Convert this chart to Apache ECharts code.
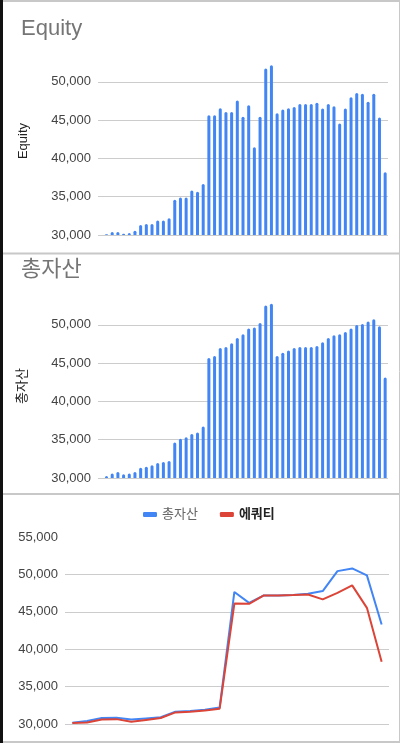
<!DOCTYPE html>
<html lang="ko">

<head>
    <meta charset="UTF-8">
    <title>Equity / 총자산</title>
    <style type="text/css">
        html, body {
            margin: 0;
            padding: 0;
            background: #fff;
        }
    </style>
</head>

<body>
    <div id="main" style="width:400px;height:743px;"></div>
    <script src="https://cdn.jsdelivr.net/npm/echarts@6/dist/echarts.min.js"></script>
    <script type="text/javascript">
        // 막대 차트 데이터 (51개 구간)
        var equity = [30000, 30100, 30400, 30400, 30150, 30250, 30550, 31300, 31450, 31450,
            31900, 31900, 32200, 34600, 34900, 34900, 35800, 35650, 36650, 45650,
            45650, 46550, 46050, 46050, 47550, 45450, 46950, 41450, 45450, 51750,
            52150, 45900, 46400, 46550, 46700, 47100, 47100, 47100, 47250, 46500,
            47100, 46800, 44550, 46500, 48000, 48550, 48450, 47400, 48450, 45350,
            38200];
        var totalAsset = [30000, 30250, 30600, 30780, 30480, 30600, 30780, 31350, 31480, 31650,
            31950, 32100, 32220, 34620, 35140, 35330, 35760, 35940, 36720, 45660,
            45920, 46970, 47100, 47580, 48280, 48760, 49510, 49640, 50250, 52530,
            52750, 45920, 46360, 46660, 46970, 47100, 47100, 47100, 47230, 47720,
            48280, 48630, 48760, 49070, 49510, 49990, 50120, 50420, 50720, 49800,
            43130];
        var barCats = equity.map(function (v, i) { return String(i + 1); });

        // 선 차트 데이터 (22개 지점)
        var lineAsset = [30170, 30400, 30800, 30850, 30600, 30750, 30900, 31650, 31750, 31900,
            32200, 47650, 46200, 47190, 47190, 47250, 47400, 47770, 50440, 50800,
            49870, 43310];
        var lineEquity = [30130, 30200, 30600, 30650, 30300, 30550, 30800, 31550, 31650, 31800,
            32050, 46100, 46070, 47190, 47190, 47250, 47320, 46660, 47540, 48530,
            45530, 38320];
        var lineCats = lineAsset.map(function (v, i) { return String(i + 1); });

        var latin = 'Arial, "Liberation Sans", "Noto Sans CJK KR", sans-serif';
        var blue = '#4285F4';
        var red = '#DB4437';
        var gridColor = '#cccccc';

        var myChart = echarts.init(document.getElementById('main'));

        function valueAxis(idx, min, max) {
            return {
                type: 'value',
                gridIndex: idx,
                min: min,
                max: max,
                interval: 5000,
                axisLine: { show: false },
                axisTick: { show: false },
                splitLine: { showMaxLine: false, lineStyle: { color: gridColor, width: 1 } },
                axisLabel: {
                    color: '#444',
                    fontSize: 13,
                    fontFamily: latin,
                    margin: 7,
                    showMaxLabel: max % 5000 === 0,
                    formatter: function (v) { return v % 5000 === 0 ? v.toLocaleString('en-US') : ''; }
                }
            };
        }

        function catAxis(idx, data) {
            return {
                type: 'category',
                gridIndex: idx,
                data: data,
                boundaryGap: true,
                axisLine: { show: false },
                axisTick: { show: false },
                axisLabel: { show: false },
                splitLine: { show: false }
            };
        }

        var option = {
            animation: false,
            backgroundColor: '#fff',
            title: [
                { text: 'Equity', left: 16, top: 13, textStyle: { color: '#757575', fontSize: 22, fontWeight: 'normal', fontFamily: latin } },
                { text: '총자산', left: 16, top: 254, textStyle: { color: '#757575', fontSize: 22, fontWeight: 'normal', fontFamily: latin } }
            ],
            legend: {
                left: 138,
                top: 503,
                icon: 'roundRect',
                itemWidth: 14,
                itemHeight: 5,
                itemGap: 22,
                textStyle: { fontSize: 13, fontFamily: latin },
                data: [
                    { name: '총자산', textStyle: { color: '#666' } },
                    { name: '에쿼티', textStyle: { color: '#222', fontWeight: 'bold' } }
                ]
            },
            grid: [
                { left: 98, top: 55, width: 290, height: 180 },
                { left: 98, top: 298, width: 290, height: 180 },
                { left: 65, top: 537, width: 324, height: 187 }
            ],
            xAxis: [catAxis(0, barCats), catAxis(1, barCats), catAxis(2, lineCats)],
            yAxis: [valueAxis(0, 30000, 53500), valueAxis(1, 30000, 53500), valueAxis(2, 30000, 55000)],
            series: [
                {
                    name: 'Equity',
                    type: 'bar',
                    xAxisIndex: 0,
                    yAxisIndex: 0,
                    barWidth: 3,
                    itemStyle: { color: blue, borderRadius: [1.5, 1.5, 0, 0] },
                    data: equity
                },
                {
                    name: '총자산 막대',
                    type: 'bar',
                    xAxisIndex: 1,
                    yAxisIndex: 1,
                    barWidth: 3,
                    itemStyle: { color: blue, borderRadius: [1.5, 1.5, 0, 0] },
                    data: totalAsset
                },
                {
                    name: '총자산',
                    type: 'line',
                    xAxisIndex: 2,
                    yAxisIndex: 2,
                    symbol: 'none',
                    lineStyle: { color: blue, width: 2 },
                    itemStyle: { color: blue },
                    data: lineAsset
                },
                {
                    name: '에쿼티',
                    type: 'line',
                    xAxisIndex: 2,
                    yAxisIndex: 2,
                    symbol: 'none',
                    lineStyle: { color: red, width: 2 },
                    itemStyle: { color: red },
                    data: lineEquity
                }
            ],
            graphic: [
                // 세로 축 제목
                { type: 'text', x: 17, y: 141, rotation: Math.PI / 2, style: { text: 'Equity', fill: '#222', font: '13px ' + latin, align: 'center', verticalAlign: 'top' } },
                { type: 'text', x: 16, y: 386, rotation: Math.PI / 2, style: { text: '총자산', fill: '#222', font: '13px ' + latin, align: 'center', verticalAlign: 'top' } },
                // 패널 테두리
                { type: 'line', shape: { x1: 0, y1: 1, x2: 400, y2: 1 }, style: { stroke: '#c8c8c8', lineWidth: 2 } },
                { type: 'line', shape: { x1: 0, y1: 253.5, x2: 400, y2: 253.5 }, style: { stroke: '#c8c8c8', lineWidth: 2 } },
                { type: 'line', shape: { x1: 0, y1: 494, x2: 400, y2: 494 }, style: { stroke: '#c8c8c8', lineWidth: 2 } },
                { type: 'line', shape: { x1: 0, y1: 742, x2: 400, y2: 742 }, style: { stroke: '#c8c8c8', lineWidth: 2 } },
                { type: 'line', shape: { x1: 399.5, y1: 0, x2: 399.5, y2: 743 }, style: { stroke: '#c8c8c8', lineWidth: 1 } },
                { type: 'line', shape: { x1: 1.5, y1: 0, x2: 1.5, y2: 743 }, style: { stroke: '#111', lineWidth: 3 } }
            ]
        };

        myChart.setOption(option);
    </script>
</body>

</html>
